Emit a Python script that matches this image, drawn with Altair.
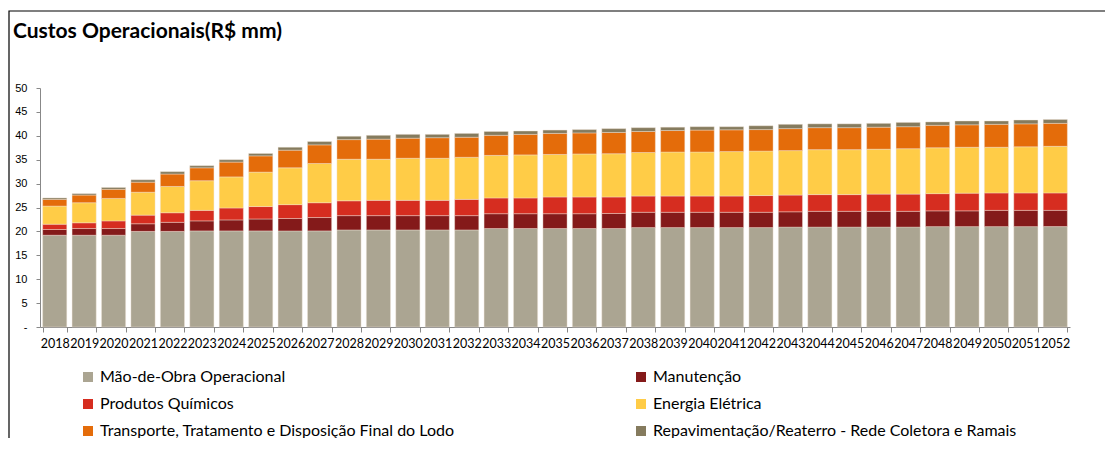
import altair as alt
import pandas as pd

years = [str(y) for y in range(2018, 2053)]

series = [
    "Mão-de-Obra Operacional",
    "Manutenção",
    "Produtos Químicos",
    "Energia Elétrica",
    "Transporte, Tratamento e Disposição Final do Lodo",
    "Repavimentação/Reaterro - Rede Coletora e Ramais",
]
colors = ["#ABA592", "#841A1A", "#D62D20", "#FFCC47", "#E46C0A", "#857B5E"]

mao_de_obra = [19.2, 19.2, 19.2, 20.0, 20.0, 20.1, 20.1, 20.1, 20.1, 20.1,
               20.3, 20.3, 20.3, 20.3, 20.3, 20.6, 20.6, 20.6, 20.6, 20.6,
               20.8, 20.8, 20.8, 20.8, 20.8, 20.9, 20.9, 20.9, 20.9, 20.9,
               21.0, 21.0, 21.0, 21.0, 21.0]
manutencao = [1.2, 1.4, 1.4, 1.6, 1.9, 2.1, 2.3, 2.5, 2.6, 2.8,
              3.0, 3.0, 3.0, 3.0, 3.0, 3.1, 3.1, 3.1, 3.1, 3.15,
              3.2, 3.2, 3.2, 3.2, 3.2, 3.2, 3.3, 3.3, 3.3, 3.3,
              3.3, 3.3, 3.4, 3.4, 3.4]
quimicos = [1.1, 1.2, 1.6, 1.8, 2.0, 2.2, 2.5, 2.6, 2.9, 3.1,
            3.1, 3.2, 3.2, 3.2, 3.4, 3.3, 3.3, 3.5, 3.5, 3.45,
            3.4, 3.4, 3.4, 3.4, 3.5, 3.5, 3.5, 3.5, 3.6, 3.6,
            3.6, 3.7, 3.65, 3.65, 3.65]
energia = [3.8, 4.2, 4.7, 4.8, 5.5, 6.2, 6.5, 7.2, 7.7, 8.2,
           8.7, 8.6, 8.8, 8.8, 8.8, 8.9, 9.0, 8.9, 9.0, 9.05,
           9.1, 9.2, 9.2, 9.3, 9.3, 9.3, 9.4, 9.4, 9.4, 9.5,
           9.6, 9.6, 9.55, 9.65, 9.75]
transporte = [1.4, 1.6, 1.9, 2.1, 2.6, 2.7, 3.1, 3.4, 3.7, 3.9,
              4.1, 4.2, 4.2, 4.3, 4.2, 4.2, 4.3, 4.4, 4.4, 4.45,
              4.4, 4.5, 4.6, 4.55, 4.5, 4.6, 4.6, 4.6, 4.6, 4.6,
              4.7, 4.7, 4.8, 4.8, 4.8]
repavimentacao = [0.3, 0.3, 0.4, 0.5, 0.5, 0.45, 0.5, 0.5, 0.6, 0.7,
                  0.7, 0.8, 0.8, 0.7, 0.8, 0.8, 0.7, 0.7, 0.7, 0.8,
                  0.8, 0.7, 0.7, 0.65, 0.8, 0.9, 0.8, 0.8, 0.8, 0.9,
                  0.7, 0.8, 0.7, 0.8, 0.8]

all_values = [mao_de_obra, manutencao, quimicos, energia, transporte, repavimentacao]

rows = []
for si, (name, vals) in enumerate(zip(series, all_values)):
    for y, v in zip(years, vals):
        rows.append({"ano": y, "serie": name, "valor": v, "ordem": si})
df = pd.DataFrame(rows)

bars = alt.Chart(df).mark_bar(stroke="#F3E6D8", strokeWidth=0.4).encode(
    x=alt.X("ano:N", sort=years, title=None,
            scale=alt.Scale(paddingInner=0.18, paddingOuter=0.09),
            axis=alt.Axis(labelAngle=0, labelFont="Lato", labelFontSize=12.5,
                          labelColor="#000000", labelOverlap=False, labelPadding=5,
                          tickBand="extent", tickSize=5, tickColor="#888888",
                          domainColor="#888888", labelLimit=0)),
    y=alt.Y("valor:Q", stack="zero", title=None,
            scale=alt.Scale(domain=[0, 50], nice=False),
            axis=alt.Axis(values=list(range(0, 51, 5)), grid=False,
                          labelExpr="datum.value == 0 ? '-' : datum.label",
                          labelFont="Liberation Sans", labelFontSize=11,
                          labelColor="#000000", labelPadding=9, tickSize=4,
                          tickColor="#888888", domainColor="#888888")),
    color=alt.Color("serie:N", sort=series,
                    scale=alt.Scale(domain=series, range=colors),
                    legend=alt.Legend(title=None, orient="none", legendX=40, legendY=281,
                                      direction="horizontal",
                                      columns=2, columnPadding=178, rowPadding=11,
                                      symbolType="square", symbolSize=100,
                                      symbolStrokeWidth=0, labelFont="Lato",
                                      labelFontSize=16, labelColor="#000000",
                                      labelOffset=4, labelLimit=0)),
    order=alt.Order("ordem:Q", sort="ascending"),
)

frame_df = pd.DataFrame({"a": [0]})
frame = alt.Chart(frame_df).mark_rect(filled=False, stroke="#000000", strokeWidth=1.2).encode(
    x=alt.value(-31), x2=alt.value(1090), y=alt.value(-77), y2=alt.value(380))

chart = alt.layer(bars, frame).properties(
    width=1030, height=239,
    padding={"left": 32, "top": 80, "right": 35, "bottom": 111},
    autosize=alt.AutoSizeParams(type="none"),
    title=alt.Title("Custos Operacionais(R$ mm)", anchor="start", frame="group",
                    font="Lato", fontSize=21, fontWeight="bold", color="#000000",
                    dx=-27, offset=0, dy=32),
).configure_view(stroke=None)

chart.save("out.html", embed_options={"renderer": "svg", "actions": False})
